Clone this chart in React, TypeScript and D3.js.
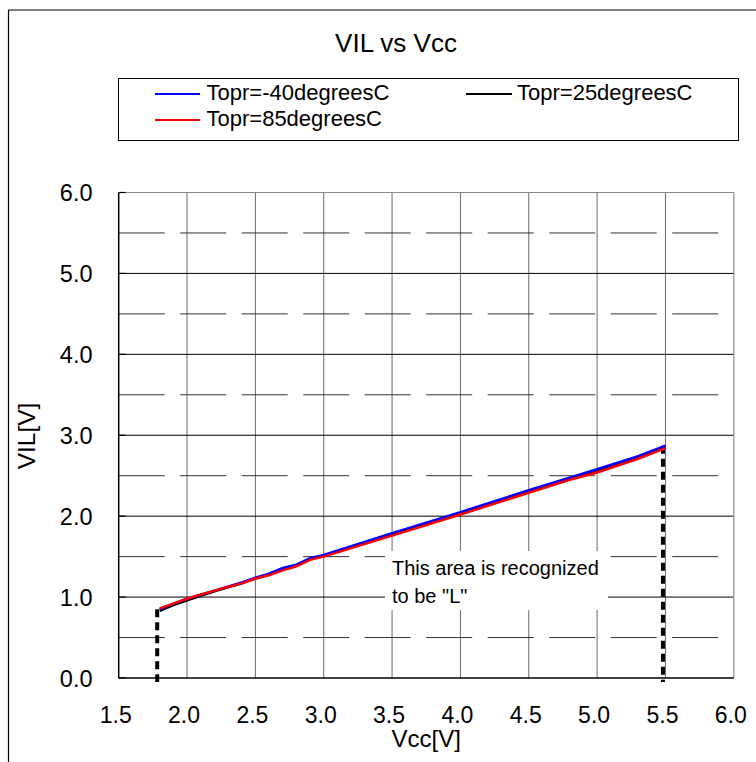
import React from "react";
import * as d3 from "d3";

const vccBlue = [1.8, 1.9, 2.0, 2.2, 2.4, 2.5, 2.6, 2.7, 2.8, 2.9, 3.0, 3.5, 4.0, 4.5, 5.0, 5.3, 5.5];
const vilMinus40 = [0.85, 0.92, 0.98, 1.08, 1.18, 1.24, 1.29, 1.36, 1.40, 1.48, 1.52, 1.79, 2.05, 2.32, 2.58, 2.74, 2.87];
const vcc25 = [1.8, 1.9, 2.0, 2.2, 2.4, 2.5, 2.6, 2.7, 2.8, 2.9, 3.0, 3.5, 4.0, 4.5, 5.0, 5.3, 5.5];
const vil25 = [0.83, 0.90, 0.96, 1.07, 1.17, 1.23, 1.28, 1.34, 1.39, 1.47, 1.51, 1.77, 2.03, 2.30, 2.56, 2.72, 2.85];
const vccRed = [1.8, 1.9, 2.0, 2.2, 2.4, 2.5, 2.6, 2.7, 2.8, 2.9, 3.0, 3.5, 4.0, 4.5, 4.8, 5.0, 5.3, 5.5];
const vil85 = [0.86, 0.92, 0.98, 1.08, 1.17, 1.23, 1.27, 1.33, 1.38, 1.46, 1.50, 1.76, 2.02, 2.29, 2.45, 2.54, 2.71, 2.84];

const seriesNames = ["Topr=-40degreesC", "Topr=25degreesC", "Topr=85degreesC"];
const seriesColors = ["#0000ff", "#000000", "#ff0000"];

const xTicks = [1.5, 2.0, 2.5, 3.0, 3.5, 4.0, 4.5, 5.0, 5.5, 6.0];
const yTicks = [0, 1, 2, 3, 4, 5, 6];
const yHalfTicks = [0.5, 1.5, 2.5, 3.5, 4.5, 5.5];
const vccLimits = [1.8, 5.5];
const titleText = "VIL vs Vcc";
const xLabel = "Vcc[V]";
const yLabel = "VIL[V]";
const noteLines = ["This area is recognized", "to be \"L\""];

export default function App() {
  const W = 756, H = 762;
  const L = 118.7, R = 733.8, T = 192.5, B = 678;
  const x = d3.scaleLinear().domain([1.5, 6.0]).range([L, R]);
  const y = d3.scaleLinear().domain([0, 6]).range([B, T]);
  const font = "'Liberation Sans', Arial, sans-serif";
  const line = d3.line<[number, number]>().x(d => x(d[0])).y(d => y(d[1]));
  const s1 = vccBlue.map((v, i) => [v, vilMinus40[i]] as [number, number]);
  const s2 = vcc25.map((v, i) => [v, vil25[i]] as [number, number]);
  const s3 = vccRed.map((v, i) => [v, vil85[i]] as [number, number]);
  const endVals = [vilMinus40[0], vilMinus40[vilMinus40.length - 1]];

  return (
    <svg width={W} height={H} style={{ position: "absolute", left: 0, top: 0 }} fontFamily={font}>
      <rect x={0} y={0} width={W} height={H} fill="#fff" />
      {/* outer frame */}
      <line x1={8.5} y1={10} x2={W} y2={10} stroke="#000" strokeWidth={1.2} />
      <line x1={8.5} y1={10} x2={8.5} y2={H} stroke="#000" strokeWidth={1.2} />
      {/* title */}
      <text x={396} y={52} fontSize={26} textAnchor="middle" fill="#000">{titleText}</text>
      {/* legend */}
      <rect x={118.5} y={78.5} width={620} height={62} fill="#fff" stroke="#000" strokeWidth={1} />
      <line x1={155} x2={200} y1={94} y2={94} stroke={seriesColors[0]} strokeWidth={2} />
      <text x={206.5} y={99.5} fontSize={22} fill="#000">{seriesNames[0]}</text>
      <line x1={466} x2={512} y1={94} y2={94} stroke={seriesColors[1]} strokeWidth={2} />
      <text x={517} y={99.5} fontSize={22} fill="#000">{seriesNames[1]}</text>
      <line x1={155} x2={200} y1={120} y2={120} stroke={seriesColors[2]} strokeWidth={2} />
      <text x={206.5} y={125.5} fontSize={22} fill="#000">{seriesNames[2]}</text>
      {/* grid */}
      {xTicks.slice(1, -1).map(t => (
        <line key={"vx" + t} x1={x(t)} x2={x(t)} y1={T} y2={B} stroke="#6a6a6a" strokeWidth={1} />
      ))}
      {yTicks.slice(1, -1).map(t => (
        <line key={"hy" + t} x1={L} x2={R} y1={y(t)} y2={y(t)} stroke="#000" strokeWidth={1} />
      ))}
      {yHalfTicks.map(t => (
        <line key={"hd" + t} x1={L} x2={R - 15} y1={y(t)} y2={y(t)} stroke="#333" strokeWidth={1} strokeDasharray="46 15.5" />
      ))}
      {/* note box */}
      <rect x={385} y={551} width={223} height={59} fill="#fff" />
      {noteLines.map((s, i) => (
        <text key={s} x={392} y={575 + i * 27.5} fontSize={20} fill="#000">{s}</text>
      ))}
      {/* plot border */}
      <line x1={L} x2={R} y1={T} y2={T} stroke="#8a8a8a" strokeWidth={1.2} />
      <line x1={R} x2={R} y1={T} y2={B} stroke="#8a8a8a" strokeWidth={1.2} />
      <line x1={L} x2={L} y1={T} y2={B} stroke="#000" strokeWidth={1.5} />
      <line x1={L} x2={R} y1={B} y2={B} stroke="#000" strokeWidth={1.5} />
      {yTicks.map(t => (
        <line key={"yt" + t} x1={L} x2={L + 7} y1={y(t)} y2={y(t)} stroke="#000" strokeWidth={1.2} />
      ))}
      {/* tick labels */}
      {yTicks.map(t => (
        <text key={"yl" + t} x={92.5} y={y(t) + 8.5} fontSize={23.5} textAnchor="end" fill="#000">{t.toFixed(1)}</text>
      ))}
      {xTicks.map(t => (
        <text key={"xl" + t} x={x(t) - 3} y={722.5} fontSize={23} textAnchor="middle" fill="#000">{t.toFixed(1)}</text>
      ))}
      <text x={(L + R) / 2} y={747} fontSize={24} textAnchor="middle" fill="#000">{xLabel}</text>
      <text transform={`translate(35,436) rotate(-90)`} fontSize={24.5} textAnchor="middle" fill="#000">{yLabel}</text>
      {/* limit dashed lines */}
      {vccLimits.map((v, i) => (
        <line key={"lim" + v} x1={x(v) - 2.5} x2={x(v) - 2.5} y1={y(endVals[i])} y2={B + 4} stroke="#000" strokeWidth={4} strokeDasharray="8 5" />
      ))}
      {/* data */}
      <path d={line(s2) || ""} fill="none" stroke={seriesColors[1]} strokeWidth={2.5} />
      <path d={line(s1) || ""} fill="none" stroke={seriesColors[0]} strokeWidth={2.5} />
      <path d={line(s3) || ""} fill="none" stroke={seriesColors[2]} strokeWidth={2.5} />
    </svg>
  );
}
